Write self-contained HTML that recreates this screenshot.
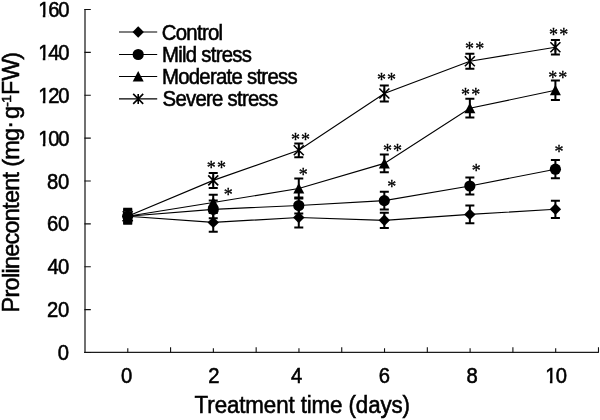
<!DOCTYPE html>
<html><head><meta charset="utf-8"><title>Proline content</title>
<style>
html,body{margin:0;padding:0;background:#fff;}
body{width:600px;height:420px;overflow:hidden;}
svg{display:block;}
text{font-family:"Liberation Sans",sans-serif;fill:#000;}
.ay{stroke:#484848;stroke-width:1.55;fill:none;}
.axx{stroke:#1c1c1c;stroke-width:1.25;fill:none;}
.tkm{stroke:#111;stroke-width:1.1;fill:none;}
.ln{stroke:#000;stroke-width:1.15;fill:none;}
.eb{stroke:#000;stroke-width:2;fill:none;}
.mk{fill:#000;stroke:none;}
.st{stroke:#000;stroke-width:1.6;fill:none;}
.tk,.lg,.tt,.yt{stroke:#000;stroke-width:0.55px;}
.as{stroke:#000;stroke-width:0.3px;}
.as{font-family:"Liberation Serif",serif;font-size:18px;text-anchor:middle;}
</style></head><body>
<svg width="600" height="420" viewBox="0 0 600 420">
<rect width="600" height="420" fill="#fff"/>
<path d="M85.0 9.0V352.9" class="ay"/>
<path d="M84.2 352.45H598.8000000000001" class="axx"/>
<path d="M84.4 352.50H90.8M84.4 309.62H90.8M84.4 266.75H90.8M84.4 223.88H90.8M84.4 181.00H90.8M84.4 138.12H90.8M84.4 95.25H90.8M84.4 52.38H90.8M84.4 9.50H90.8M127.79 352.5V348.2M170.58 352.5V347.2M213.37 352.5V348.2M256.16 352.5V347.2M298.95 352.5V348.2M341.74 352.5V347.2M384.53 352.5V348.2M427.32 352.5V347.2M470.11 352.5V348.2M512.90 352.5V347.2M555.69 352.5V348.2M598.48 352.5V347.2" class="tkm"/>
<text transform="translate(57.87 360.00) scale(0.95 1)" class="tk" style="font-size:21.3px;letter-spacing:0.000px">0</text>
<text transform="translate(46.95 317.12) scale(0.95 1)" class="tk" style="font-size:21.3px;letter-spacing:-0.105px">20</text>
<text transform="translate(47.42 274.25) scale(0.95 1)" class="tk" style="font-size:21.3px;letter-spacing:-0.605px">40</text>
<text transform="translate(46.95 231.38) scale(0.95 1)" class="tk" style="font-size:21.3px;letter-spacing:-0.105px">60</text>
<text transform="translate(46.95 188.50) scale(0.95 1)" class="tk" style="font-size:21.3px;letter-spacing:-0.105px">80</text>
<text transform="translate(38.18 145.62) scale(0.95 1)" class="tk" style="font-size:21.3px;letter-spacing:-1.309px">100</text>
<rect x="38.78" y="143.39" width="4.01" height="3.84" fill="#fff"/>
<rect x="45.35" y="143.39" width="3.54" height="3.84" fill="#fff"/>
<text transform="translate(38.18 102.75) scale(0.95 1)" class="tk" style="font-size:21.3px;letter-spacing:-1.309px">120</text>
<rect x="38.78" y="100.51" width="4.01" height="3.84" fill="#fff"/>
<rect x="45.35" y="100.51" width="3.54" height="3.84" fill="#fff"/>
<text transform="translate(38.18 59.88) scale(0.95 1)" class="tk" style="font-size:21.3px;letter-spacing:-1.309px">140</text>
<rect x="38.78" y="57.64" width="4.01" height="3.84" fill="#fff"/>
<rect x="45.35" y="57.64" width="3.54" height="3.84" fill="#fff"/>
<text transform="translate(38.18 17.00) scale(0.95 1)" class="tk" style="font-size:21.3px;letter-spacing:-1.309px">160</text>
<rect x="38.78" y="14.76" width="4.01" height="3.84" fill="#fff"/>
<rect x="45.35" y="14.76" width="3.54" height="3.84" fill="#fff"/>
<text transform="translate(120.92 383.10) scale(0.95 1)" class="tk" style="font-size:21.3px;letter-spacing:0.000px">0</text>
<text transform="translate(208.27 383.10) scale(0.95 1)" class="tk" style="font-size:21.3px;letter-spacing:0.000px">2</text>
<text transform="translate(290.97 383.10) scale(0.95 1)" class="tk" style="font-size:21.3px;letter-spacing:0.000px">4</text>
<text transform="translate(378.70 383.10) scale(0.95 1)" class="tk" style="font-size:21.3px;letter-spacing:0.000px">6</text>
<text transform="translate(466.60 383.10) scale(0.95 1)" class="tk" style="font-size:21.3px;letter-spacing:0.000px">8</text>
<text transform="translate(545.28 383.10) scale(0.95 1)" class="tk" style="font-size:21.3px;letter-spacing:-0.868px">10</text>
<rect x="545.88" y="380.86" width="4.01" height="3.84" fill="#fff"/>
<rect x="552.45" y="380.86" width="3.54" height="3.84" fill="#fff"/>
<text transform="translate(161.74 39.60) scale(0.96 1)" class="lg" style="font-size:21.2px;letter-spacing:-0.733px">Control</text>
<text transform="translate(161.92 61.60) scale(0.96 1)" class="lg" style="font-size:21.2px;letter-spacing:-0.750px">Mild stress</text>
<text transform="translate(161.92 83.60) scale(0.96 1)" class="lg" style="font-size:21.2px;letter-spacing:-0.753px">Moderate stress</text>
<text transform="translate(162.54 105.60) scale(0.96 1)" class="lg" style="font-size:21.2px;letter-spacing:-0.750px">Severe stress</text>
<text transform="translate(194.62 413.40) scale(0.955 1)" class="tt" style="font-size:23.4px;letter-spacing:-0.112px">Treatment time (days)</text>
<text transform="translate(19 312.4) rotate(-90)" class="yt" style="font-size:23.4px;letter-spacing:-0.7px">Prolinecontent (mg<tspan dy="-1.8">·</tspan><tspan dx="2.5" dy="1.8">g</tspan><tspan style="font-size:13.6px" dy="-7.8" dx="0.1">-1</tspan><tspan dy="7.8" dx="0.9">F</tspan><tspan dx="0.7">W</tspan><tspan dx="-0.4">)</tspan></text>
<path d="M119 31.95H157.2" class="ln"/>
<path d="M138.20 26.25L143.90 31.95L138.20 37.65L132.50 31.95Z" class="mk"/>
<path d="M119 54.5H157.2" class="ln"/>
<circle cx="138.20" cy="54.50" r="5.6" class="mk"/>
<path d="M119 76.5H157.2" class="ln"/>
<path d="M138.20 71.00L143.70 81.50L132.70 81.50Z" class="mk"/>
<path d="M119 98.9H157.2" class="ln"/>
<path d="M133.20 93.90L143.20 103.90M143.20 93.90L133.20 103.90M138.20 93.90V103.90" class="st"/>
<polyline points="127.70,216.30 213.24,222.40 298.78,217.50 384.32,220.30 469.86,214.40 555.40,209.30" class="ln"/>
<polyline points="127.70,216.30 213.24,209.40 298.78,205.50 384.32,200.60 469.86,186.00 555.40,169.20" class="ln"/>
<polyline points="127.70,216.30 213.24,202.50 298.78,188.50 384.32,163.40 469.86,108.20 555.40,90.30" class="ln"/>
<polyline points="127.70,216.30 213.24,180.40 298.78,150.30 384.32,93.50 469.86,61.30 555.40,47.20" class="ln"/>
<path d="M127.70 208.80V223.80M123.20 208.80H132.20M123.20 223.80H132.20" class="eb"/>
<path d="M213.24 213.10V231.70M208.74 213.10H217.74M208.74 231.70H217.74" class="eb"/>
<path d="M298.78 207.50V227.50M294.28 207.50H303.28M294.28 227.50H303.28" class="eb"/>
<path d="M384.32 212.70V227.90M379.82 212.70H388.82M379.82 227.90H388.82" class="eb"/>
<path d="M469.86 205.60V223.20M465.36 205.60H474.36M465.36 223.20H474.36" class="eb"/>
<path d="M555.40 200.70V217.90M550.90 200.70H559.90M550.90 217.90H559.90" class="eb"/>
<path d="M127.70 210.80V221.80M123.20 210.80H132.20M123.20 221.80H132.20" class="eb"/>
<path d="M213.24 200.50V218.30M208.74 200.50H217.74M208.74 218.30H217.74" class="eb"/>
<path d="M298.78 197.50V213.50M294.28 197.50H303.28M294.28 213.50H303.28" class="eb"/>
<path d="M384.32 191.70V209.50M379.82 191.70H388.82M379.82 209.50H388.82" class="eb"/>
<path d="M469.86 177.40V194.60M465.36 177.40H474.36M465.36 194.60H474.36" class="eb"/>
<path d="M555.40 160.10V178.30M550.90 160.10H559.90M550.90 178.30H559.90" class="eb"/>
<path d="M127.70 212.70V219.90M123.20 212.70H132.20M123.20 219.90H132.20" class="eb"/>
<path d="M213.24 194.80V210.20M208.74 194.80H217.74M208.74 210.20H217.74" class="eb"/>
<path d="M298.78 178.50V198.50M294.28 178.50H303.28M294.28 198.50H303.28" class="eb"/>
<path d="M384.32 154.60V172.20M379.82 154.60H388.82M379.82 172.20H388.82" class="eb"/>
<path d="M469.86 98.80V117.60M465.36 98.80H474.36M465.36 117.60H474.36" class="eb"/>
<path d="M555.40 80.55V100.05M550.90 80.55H559.90M550.90 100.05H559.90" class="eb"/>
<path d="M127.70 209.80V222.80M123.20 209.80H132.20M123.20 222.80H132.20" class="eb"/>
<path d="M213.24 172.90V187.90M208.74 172.90H217.74M208.74 187.90H217.74" class="eb"/>
<path d="M298.78 143.40V157.20M294.28 143.40H303.28M294.28 157.20H303.28" class="eb"/>
<path d="M384.32 85.60V101.40M379.82 85.60H388.82M379.82 101.40H388.82" class="eb"/>
<path d="M469.86 53.80V68.80M465.36 53.80H474.36M465.36 68.80H474.36" class="eb"/>
<path d="M555.40 40.00V54.40M550.90 40.00H559.90M550.90 54.40H559.90" class="eb"/>
<path d="M127.70 210.60L133.40 216.30L127.70 222.00L122.00 216.30Z" class="mk"/>
<path d="M213.24 216.70L218.94 222.40L213.24 228.10L207.54 222.40Z" class="mk"/>
<path d="M298.78 211.80L304.48 217.50L298.78 223.20L293.08 217.50Z" class="mk"/>
<path d="M384.32 214.60L390.02 220.30L384.32 226.00L378.62 220.30Z" class="mk"/>
<path d="M469.86 208.70L475.56 214.40L469.86 220.10L464.16 214.40Z" class="mk"/>
<path d="M555.40 203.60L561.10 209.30L555.40 215.00L549.70 209.30Z" class="mk"/>
<circle cx="127.70" cy="216.30" r="5.6" class="mk"/>
<circle cx="213.24" cy="209.40" r="5.6" class="mk"/>
<circle cx="298.78" cy="205.50" r="5.6" class="mk"/>
<circle cx="384.32" cy="200.60" r="5.6" class="mk"/>
<circle cx="469.86" cy="186.00" r="5.6" class="mk"/>
<circle cx="555.40" cy="169.20" r="5.6" class="mk"/>
<path d="M127.70 210.80L133.20 221.30L122.20 221.30Z" class="mk"/>
<path d="M213.24 197.00L218.74 207.50L207.74 207.50Z" class="mk"/>
<path d="M298.78 183.00L304.28 193.50L293.28 193.50Z" class="mk"/>
<path d="M384.32 157.90L389.82 168.40L378.82 168.40Z" class="mk"/>
<path d="M469.86 102.70L475.36 113.20L464.36 113.20Z" class="mk"/>
<path d="M555.40 84.80L560.90 95.30L549.90 95.30Z" class="mk"/>
<path d="M122.70 211.30L132.70 221.30M132.70 211.30L122.70 221.30M127.70 211.30V221.30" class="st"/>
<path d="M208.24 175.40L218.24 185.40M218.24 175.40L208.24 185.40M213.24 175.40V185.40" class="st"/>
<path d="M293.78 145.30L303.78 155.30M303.78 145.30L293.78 155.30M298.78 145.30V155.30" class="st"/>
<path d="M379.32 88.50L389.32 98.50M389.32 88.50L379.32 98.50M384.32 88.50V98.50" class="st"/>
<path d="M464.86 56.30L474.86 66.30M474.86 56.30L464.86 66.30M469.86 56.30V66.30" class="st"/>
<path d="M550.40 42.20L560.40 52.20M560.40 42.20L550.40 52.20M555.40 42.20V52.20" class="st"/>
<text x="211.20 221.40" y="174.30" class="as">**</text>
<text x="228.30" y="200.80" class="as">*</text>
<text x="295.40 305.60" y="145.50" class="as">**</text>
<text x="303.30" y="180.50" class="as">*</text>
<text x="381.40 391.60" y="85.90" class="as">**</text>
<text x="387.40 397.60" y="156.70" class="as">**</text>
<text x="391.80" y="193.10" class="as">*</text>
<text x="469.50 479.70" y="55.00" class="as">**</text>
<text x="465.50 475.70" y="100.50" class="as">**</text>
<text x="476.30" y="177.30" class="as">*</text>
<text x="553.60 563.80" y="41.00" class="as">**</text>
<text x="552.65 562.85" y="83.75" class="as">**</text>
<text x="559.10" y="158.00" class="as">*</text>
</svg></body></html>
